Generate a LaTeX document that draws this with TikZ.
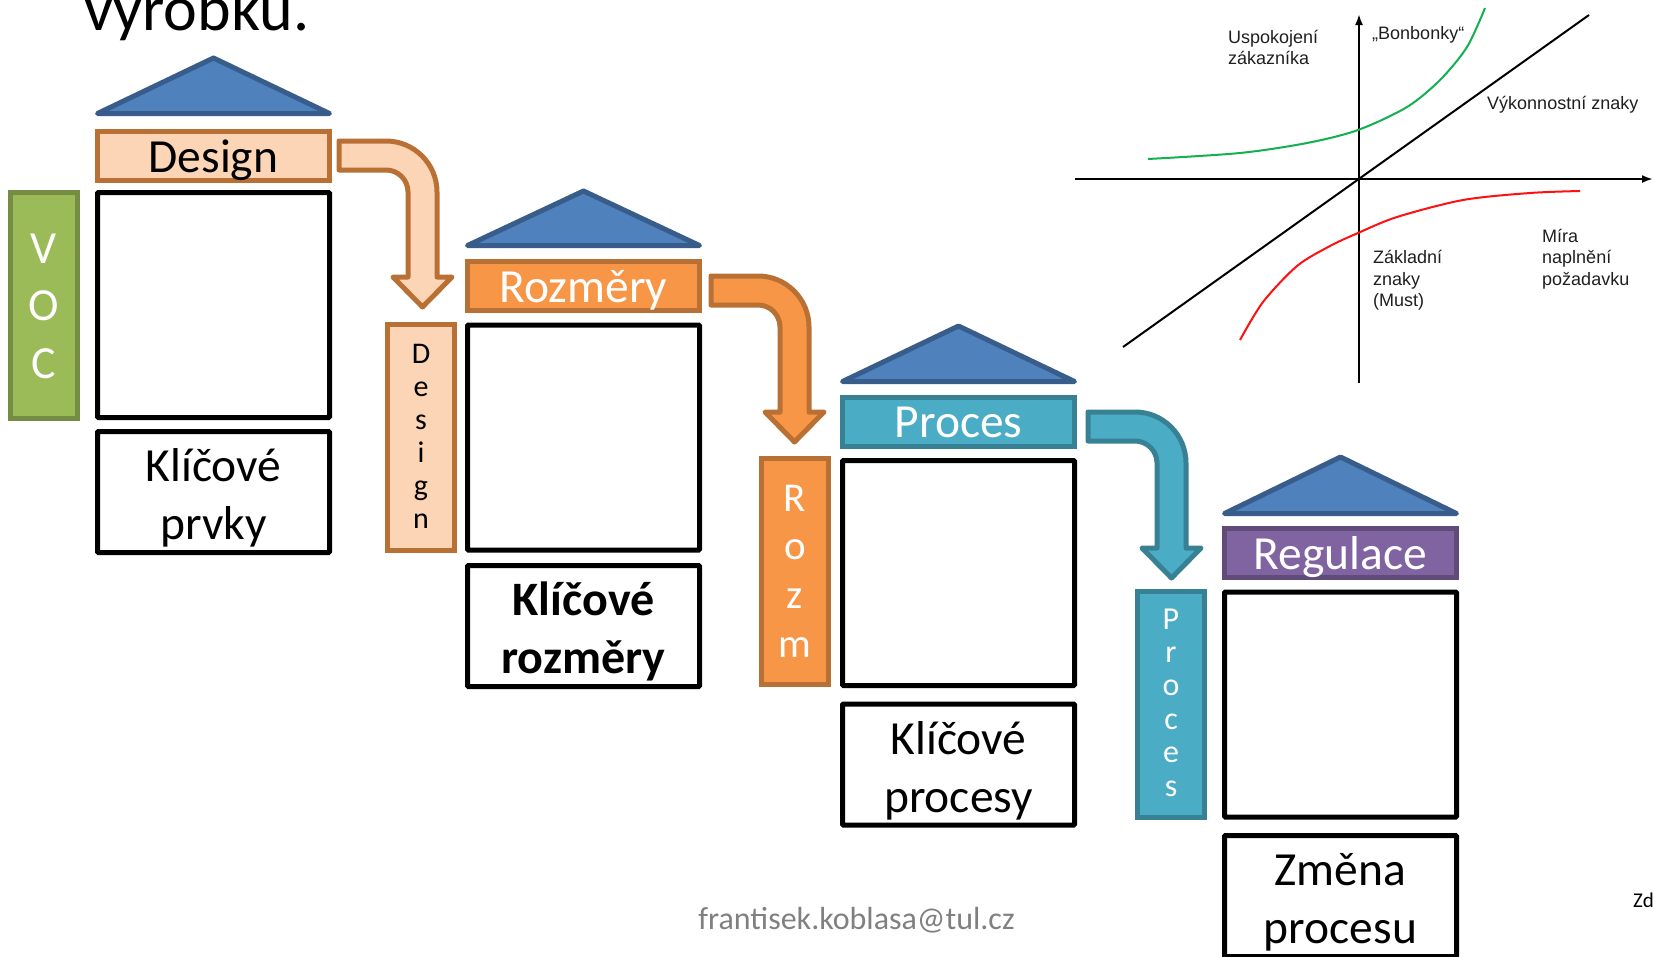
\documentclass[tikz,border=0pt]{standalone}
\usepackage{fontspec}
\setmainfont{Carlito}
\newfontfamily\kanofont{Liberation Sans}
\usetikzlibrary{arrows.meta}
\definecolor{roofF}{HTML}{4F81BD}
\definecolor{roofD}{HTML}{385D8A}
\definecolor{peachF}{HTML}{FBD5B5}
\definecolor{orangeF}{HTML}{F79646}
\definecolor{orangeD}{HTML}{B97034}
\definecolor{tealF}{HTML}{4BACC6}
\definecolor{tealD}{HTML}{388194}
\definecolor{purpleF}{HTML}{8064A2}
\definecolor{purpleD}{HTML}{604B79}
\definecolor{greenF}{HTML}{9BBB59}
\definecolor{greenD}{HTML}{748C43}
\definecolor{kanoGreen}{HTML}{12B04E}
\definecolor{kanoRed}{HTML}{FF1010}
\definecolor{footGrey}{HTML}{808080}

\newcommand{\bentarrow}[5]{%
  \pgfmathsetmacro{\baR}{#4+29}%
  \pgfmathsetmacro{\bacx}{#4-22}%
  \pgfmathsetmacro{\bacy}{#3+51}%
  \pgfmathsetmacro{\bako}{0.5523*51}%
  \pgfmathsetmacro{\baki}{0.5523*22}%
  \pgfmathsetmacro{\babot}{#3+29}%
  \pgfmathsetmacro{\bamid}{#4+14.5}%
  \draw[#1] (#2,#3) -- (\bacx,#3)
    .. controls ({\bacx+\bako},#3) and (\baR,{\bacy-\bako}) .. (\baR,\bacy)
    -- (\baR,#5) -- ({\baR+15},#5) -- (\bamid,{#5+30}) -- ({#4-15},#5) -- (#4,#5)
    -- (#4,\bacy)
    .. controls (#4,{\bacy-\baki}) and ({\bacx+\baki},\babot) .. (\bacx,\babot)
    -- (#2,\babot) -- cycle;
}
\newcommand{\firstline}{\rule{0pt}{45pt}}

\begin{document}
\begin{tikzpicture}[x=1pt,y=-1pt,
  roof/.style={draw=roofD, fill=roofF, line width=5pt, line join=round},
  hbar/.style={rectangle, line width=5pt, minimum width=232pt, minimum height=49pt,
    inner sep=0pt, text height=32pt, text depth=0pt, font=\fontsize{47.5}{50}\selectfont},
  emptybox/.style={rectangle, draw=black, fill=white, line width=5pt, minimum width=232pt,
    minimum height=225pt, inner sep=0pt, rounded corners=1pt},
  keybox/.style={rectangle, draw=black, fill=white, line width=5pt, minimum width=232pt,
    minimum height=121pt, inner sep=0pt, rounded corners=1pt, align=center,
    font=\fontsize{47.5}{58}\selectfont},
  vbar/.style={rectangle, line width=5pt, minimum width=67pt, minimum height=226pt, inner sep=0pt},
  letter/.style={anchor=base, inner sep=0pt},
  arr/.style={line width=5pt, line join=round},
  kanotext/.style={anchor=base west, inner sep=0pt, text=black!88, font=\kanofont\fontsize{18}{21}\selectfont},
  axis/.style={line width=2pt, -{Latex[length=11pt,width=8pt]}}
]
\useasboundingbox (0,0) rectangle (1654,956);
\clip (0,0) rectangle (1654,956);

% title (cut off at top)
\node[anchor=base west, inner sep=0pt, font=\fontsize{64}{70}\selectfont] (title) at (84,30) {výrobku.};

% ---------- column 1 ----------
\draw[roof] (97.5,113.5) -- (213.5,58) -- (329.5,113.5) -- cycle;
\node[hbar, draw=orangeD, fill=peachF, text=black] (design) at (213.5,156) {Design};
\node[emptybox] (box1) at (213.5,305) {};
\node[keybox] (key1) at (213.5,492) {\firstline Klíčové\\prvky};
\node[vbar, draw=greenD, fill=greenF] (voc) at (44,305.5) {};
\foreach \ch [count=\i from 0] in {V,O,C}
  \node[letter, text=white, font=\fontsize{46}{50}\selectfont] (voc\i) at (44,{263+57.5*\i}) {\ch};

% ---------- column 2 ----------
\draw[roof] (467.5,245.5) -- (583.5,191) -- (699.5,245.5) -- cycle;
\node[hbar, draw=orangeD, fill=orangeF, text=white] (rozmery) at (583.5,286) {Rozměry};
\node[emptybox] (box2) at (583.5,437.5) {};
\node[keybox, font=\fontsize{48}{58}\selectfont\bfseries] (key2) at (583.5,626) {\firstline Klíčové\\rozměry};
\node[vbar, draw=orangeD, fill=peachF] (vdesign) at (421,437.5) {};
\foreach \ch [count=\i from 0] in {D,e,s,i,g,n}
  \node[letter, text=black, font=\fontsize{30}{34}\selectfont] (vd\i) at (421,{363+33*\i}) {\ch};

% ---------- column 3 ----------
\draw[roof] (842.5,381.5) -- (958.5,326) -- (1074.5,381.5) -- cycle;
\node[hbar, draw=tealD, fill=tealF, text=white] (proces) at (958.5,421.5) {Proces};
\node[emptybox] (box3) at (958.5,573) {};
\node[keybox] (key3) at (958.5,764.5) {\firstline Klíčové\\procesy};
\node[vbar, draw=orangeD, fill=orangeF] (vrozm) at (795,571.5) {};
\foreach \ch [count=\i from 0] in {R,o,z,m}
  \node[letter, text=white, font=\fontsize{41}{45}\selectfont] (vr\i) at (795,{511+48.7*\i}) {\ch};

% ---------- column 4 ----------
\draw[roof] (1224.5,513.5) -- (1340.5,457) -- (1456.5,513.5) -- cycle;
\node[hbar, draw=purpleD, fill=purpleF, text=white] (regulace) at (1340.5,553) {Regulace};
\node[emptybox] (box4) at (1340.5,704.5) {};
\node[keybox] (key4) at (1340.5,896) {\firstline Změna\\procesu};
\node[vbar, draw=tealD, fill=tealF] (vproces) at (1171,704.5) {};
\foreach \ch [count=\i from 0] in {P,r,o,c,e,s}
  \node[letter, text=white, font=\fontsize{32}{36}\selectfont] (vp\i) at (1171,{629+33.4*\i}) {\ch};

% ---------- bent arrows ----------
\bentarrow{arr, draw=orangeD, fill=peachF}{339}{141}{408}{277}
\bentarrow{arr, draw=orangeD, fill=orangeF}{711}{276}{780}{412}
\bentarrow{arr, draw=tealD, fill=tealF}{1088}{412}{1157}{548}

% ---------- Kano diagram ----------
\draw[axis] (1075,179) -- (1653,179);
\draw[axis] (1359,383) -- (1359,14);
\draw[line width=2pt] (1123,347) -- (1589,15);
\draw[line width=2pt, kanoGreen] plot[smooth, tension=0.5] coordinates
  {(1148,159) (1240,153) (1307,143) (1358,130) (1407,107) (1440,80) (1467,47) (1485,8)};
\draw[line width=2pt, kanoRed] plot[smooth, tension=0.5] coordinates
  {(1240,340) (1263,302) (1297,266) (1330,246) (1358,233) (1397,217) (1463,200) (1530,193) (1580,191)};

\node[kanotext] (usp1) at (1228,43) {Uspokojení};
\node[kanotext] (usp2) at (1228,64) {zákazníka};
\node[kanotext] (bonb) at (1372,39) {„Bonbonky“};
\node[kanotext] (vyk) at (1487,109) {Výkonnostní znaky};
\node[kanotext] (mira1) at (1542,242) {Míra};
\node[kanotext] (mira2) at (1542,263) {naplnění};
\node[kanotext] (mira3) at (1542,285) {požadavku};
\node[kanotext] (zakl1) at (1373,263) {Základní};
\node[kanotext] (zakl2) at (1373,285) {znaky};
\node[kanotext] (zakl3) at (1373,306) {(Must)};

% ---------- footer ----------
\node[anchor=base, inner sep=0pt, text=footGrey, font=\fontsize{32}{36}\selectfont] (mail) at (856.5,929) {frantisek.koblasa@tul.cz};
\node[anchor=base west, inner sep=0pt, font=\fontsize{21}{24}\selectfont] (zd) at (1633,907) {Zd};
\end{tikzpicture}
\end{document}
